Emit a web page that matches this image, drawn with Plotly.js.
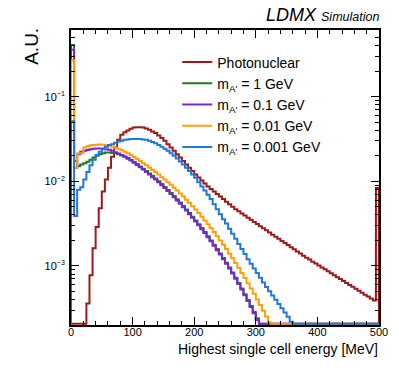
<!DOCTYPE html>
<html>
<head>
<meta charset="utf-8">
<script src="https://cdn.plot.ly/plotly-3.0.1.min.js"></script>
<style>html,body{margin:0;padding:0;background:#fff;}#chart{width:399px;height:383px;}</style>
</head>
<body>
<div id="chart"></div>
<script>
// Histogram binning (MeV)
const energyMin = 0;
const energyMax = 500;
const binWidth = 5;

const seriesNames = ["Photonuclear", "m<sub>A'</sub> = 1 GeV", "m<sub>A'</sub> = 0.1 GeV", "m<sub>A'</sub> = 0.01 GeV", "m<sub>A'</sub> = 0.001 GeV"];

// Bin contents (A.U.), 100 bins of 5 MeV
const photonuclear = [0,0,0,0,0, 3.59e-4,7.76e-4,1.62e-3,2.88e-3,4.79e-3, 7.59e-3,0.0105,0.0145,0.0195,0.0251, 0.0309,0.0355,0.0380,0.0398,0.0417, 0.0432,0.0437,0.0437,0.0432,0.0422, 0.0407,0.0389,0.0372,0.0347,0.0324, 0.0302,0.0275,0.0251,0.0229,0.0209, 0.0191,0.0174,0.0158,0.0145,0.0132, 0.0120,0.0111,0.0102,9.44e-3,8.71e-3, 8.13e-3,7.59e-3,7.08e-3,6.61e-3,6.17e-3, 5.75e-3,5.37e-3,5.01e-3,4.68e-3,4.42e-3, 4.17e-3,3.94e-3,3.72e-3,3.51e-3,3.31e-3, 3.13e-3,2.95e-3,2.79e-3,2.63e-3,2.48e-3, 2.34e-3,2.21e-3,2.09e-3,1.97e-3,1.86e-3, 1.76e-3,1.66e-3,1.57e-3,1.48e-3,1.40e-3, 1.32e-3,1.25e-3,1.19e-3,1.12e-3,1.07e-3, 1.01e-3,9.60e-4,9.10e-4,8.63e-4,8.18e-4, 7.76e-4,7.36e-4,6.98e-4,6.62e-4,6.28e-4, 5.96e-4,5.65e-4,5.36e-4,5.08e-4,4.82e-4, 4.57e-4,4.34e-4,4.11e-4,3.89e-4,8.32e-3];

const mass1GeV = [0.41,0.0174,0.0151,0.0158,0.0164, 0.0170,0.0180,0.0191,0.0200,0.0209, 0.0214,0.0219,0.0219,0.0216,0.0214, 0.0209,0.0202,0.0197,0.0188,0.0179, 0.0169,0.0160,0.0150,0.0141,0.0132, 0.0124,0.0116,0.0108,0.0100,9.27e-3, 8.57e-3,7.91e-3,7.28e-3,6.68e-3,6.12e-3, 5.60e-3,5.11e-3,4.65e-3,4.22e-3,3.82e-3, 3.45e-3,3.11e-3,2.80e-3,2.51e-3,2.24e-3, 2.00e-3,1.78e-3,1.58e-3,1.40e-3,1.24e-3, 1.09e-3,9.57e-4,8.36e-4,7.26e-4,6.28e-4, 5.41e-4,4.63e-4,3.95e-4,3.36e-4,2.84e-4, 2.40e-4,2.02e-4,1.7e-4,0,0, 0,0,0,0,0, 0,0,0,0,0, 0,0,0,0,0, 0,0,0,0,0, 0,0,0,0,0, 0,0,0,0,0, 0,0,0,0,0, 0,0,0,0,0];

const mass01GeV = [0.36,0.0145,0.0209,0.0224,0.0229, 0.0234,0.0240,0.0243,0.0245,0.0245, 0.0244,0.0240,0.0236,0.0229,0.0221, 0.0213,0.0204,0.0195,0.0185,0.0176, 0.0166,0.0156,0.0147,0.0138,0.0129, 0.0120,0.0112,0.0105,9.73e-3,8.99e-3, 8.32e-3,7.67e-3,7.06e-3,6.49e-3,5.94e-3, 5.43e-3,4.95e-3,4.51e-3,4.09e-3,3.71e-3, 3.35e-3,3.02e-3,2.72e-3,2.44e-3,2.18e-3, 1.95e-3,1.73e-3,1.53e-3,1.36e-3,1.20e-3, 1.06e-3,9.29e-4,8.11e-4,7.05e-4,6.10e-4, 5.25e-4,4.50e-4,3.84e-4,3.26e-4,2.75e-4, 2.29e-4,1.9e-4,0,0,0, 0,0,0,0,0, 0,0,0,0,0, 0,0,0,0,0, 0,0,0,0,0, 0,0,0,0,0, 0,0,0,0,0, 0,0,0,0,0, 0,0,0,0,0];

const mass001GeV = [0.27,0.0145,0.0214,0.0214,0.0251, 0.0260,0.0266,0.0269,0.0271,0.0272, 0.0270,0.0267,0.0263,0.0257,0.0250, 0.0242,0.0233,0.0224,0.0214,0.0204, 0.0194,0.0184,0.0174,0.0164,0.0155, 0.0146,0.0137,0.0129,0.0120,0.0112, 0.0105,9.77e-3,9.08e-3,8.41e-3,7.78e-3, 7.18e-3,6.61e-3,6.07e-3,5.56e-3,5.08e-3, 4.63e-3,4.22e-3,3.82e-3,3.45e-3,3.11e-3, 2.80e-3,2.51e-3,2.24e-3,2.00e-3,1.78e-3, 1.58e-3,1.39e-3,1.23e-3,1.08e-3,9.44e-4, 8.24e-4,7.18e-4,6.24e-4,5.41e-4,4.67e-4, 4.01e-4,3.44e-4,2.95e-4,2.52e-4,2.15e-4, 0,0,0,0,0, 0,0,0,0,0, 0,0,0,0,0, 0,0,0,0,0, 0,0,0,0,0, 0,0,0,0,0, 0,0,0,0,0, 0,0,0,0,0];

const mass0001GeV = [0.0513,3.89e-3,7.94e-3,8.51e-3,0.0105, 0.0129,0.0155,0.0180,0.0204,0.0224, 0.0240,0.0257,0.0269,0.0275,0.0285, 0.0295,0.0302,0.0309,0.0313,0.0316, 0.0316,0.0316,0.0316,0.0313,0.0309, 0.0302,0.0292,0.0282,0.0269,0.0257, 0.0243,0.0229,0.0214,0.0200,0.0186, 0.0172,0.0158,0.0145,0.0132,0.0120, 0.0110,9.77e-3,8.71e-3,7.76e-3,6.92e-3, 6.17e-3,5.37e-3,4.68e-3,4.07e-3,3.55e-3, 3.16e-3,2.75e-3,2.40e-3,2.09e-3,1.82e-3, 1.58e-3,1.38e-3,1.20e-3,1.06e-3,9.33e-4, 8.22e-4,7.24e-4,6.38e-4,5.62e-4,5.01e-4, 4.47e-4,3.98e-4,3.55e-4,3.16e-4,2.82e-4, 2.51e-4,2.19e-4,1.78e-4,0,0, 0,0,0,0,0, 0,0,0,0,0, 0,0,0,0,0, 0,0,0,0,0, 0,0,0,0,0];

const xTickLabels = ["0", "100", "200", "300", "400", "500"];
const yTickValues = [0.001, 0.01, 0.1];
const yTickLabels = ["10<sup><span style='font-size:7px'>−3</span></sup>", "10<sup><span style='font-size:7px'>−2</span></sup>", "10<sup><span style='font-size:7px'>−1</span></sup>"];

// ---- drawing ----
const yLow = 2.0e-4, yHigh = 0.615;
const floorVal = yLow * 1.035;   // ROOT draws empty / under-range bins along the bottom frame
const colors = ["#9e1a1a", "#1c7d1c", "#7a24d4", "#ffa005", "#2178d6"];
const allSeries = [photonuclear, mass1GeV, mass01GeV, mass001GeV, mass0001GeV];

function stepTrace(vals, name, color) {
  const xs = [energyMin], ys = [floorVal];
  for (let i = 0; i < vals.length; i++) {
    xs.push(energyMin + i * binWidth);
    ys.push(Math.max(vals[i], floorVal));
  }
  xs.push(energyMax); ys.push(Math.max(vals[vals.length - 1], floorVal));
  xs.push(energyMax); ys.push(floorVal);
  return {x: xs, y: ys, name: name, type: 'scatter', mode: 'lines',
          line: {shape: 'hv', color: color, width: 2}, hoverinfo: 'skip'};
}

const traces = allSeries.map((s, i) => stepTrace(s, seriesNames[i], colors[i]));
const FONT = "Liberation Sans, Arial, Helvetica, sans-serif";

const layout = {
  width: 399, height: 383,
  margin: {l: 71, r: 20, t: 30, b: 58, pad: 0},
  paper_bgcolor: '#fff', plot_bgcolor: '#fff',
  font: {family: FONT, color: '#000', size: 11},
  showlegend: true,
  legend: {x: 0.345, y: 0.944, xanchor: 'left', yanchor: 'top', bgcolor: 'rgba(0,0,0,0)',
           borderwidth: 0, font: {family: FONT, size: 14, color: '#000'}, tracegroupgap: 0},
  xaxis: {range: [energyMin, energyMax], tickmode: 'array',
          tickvals: xTickLabels.map(Number), ticktext: xTickLabels,
          ticks: 'inside', ticklen: 8, tickwidth: 1, tickcolor: '#000',
          minor: {dtick: 20, ticks: 'inside', ticklen: 4, tickwidth: 1, tickcolor: '#000'},
          showline: true, linecolor: '#000', linewidth: 2, mirror: 'allticks',
          showgrid: false, zeroline: false, ticklabelstandoff: -4, tickfont: {size: 11, color: '#000'}},
  yaxis: {type: 'log', range: [Math.log10(yLow), Math.log10(yHigh)],
          tickmode: 'array', tickvals: yTickValues, ticktext: yTickLabels,
          ticks: 'inside', ticklen: 8, tickwidth: 1, tickcolor: '#000',
          minor: {dtick: 'D1', ticks: 'inside', ticklen: 4, tickwidth: 1, tickcolor: '#000'},
          showline: true, linecolor: '#000', linewidth: 2, mirror: 'allticks',
          showgrid: false, zeroline: false, ticklabelstandoff: 2, tickfont: {size: 11, color: '#000'}},
  annotations: [
    {text: 'Highest single cell energy [MeV]', xref: 'paper', yref: 'paper', x: 1.003, y: -0.08,
     xanchor: 'right', yanchor: 'middle', showarrow: false, font: {family: FONT, size: 14, color: '#000'}},
    {text: 'A.U.', xref: 'paper', yref: 'paper', x: -0.127, y: 0.946, textangle: -90,
     xanchor: 'center', yanchor: 'middle', showarrow: false, font: {family: FONT, size: 19, color: '#000'}},
    {text: "<i>LDMX</i> <i><span style='font-size:12.5px'>Simulation</span></i>", xref: 'paper', yref: 'paper',
     x: 1.005, y: 1.052, xanchor: 'right', yanchor: 'middle', showarrow: false,
     font: {family: FONT, size: 18, color: '#000'}}
  ]
};

Plotly.newPlot('chart', traces, layout, {staticPlot: true, displayModeBar: false});
</script>
</body>
</html>
